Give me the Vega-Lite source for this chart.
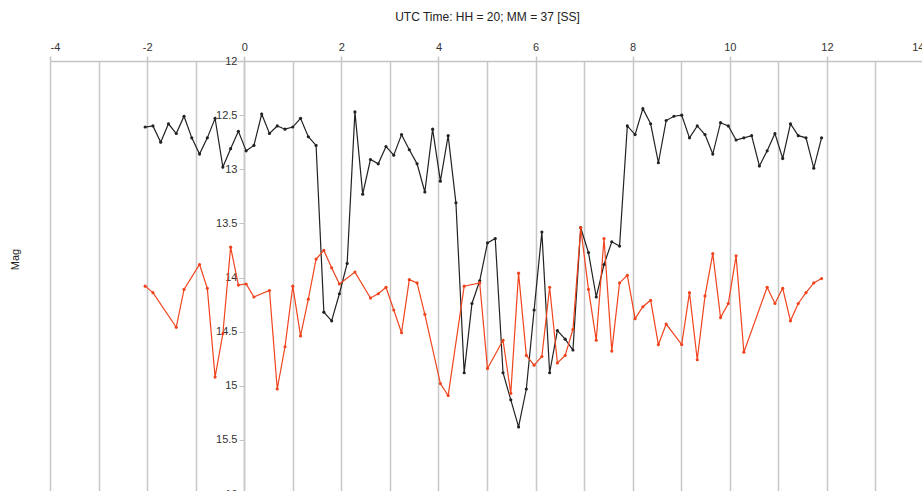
{
  "$schema": "https://vega.github.io/schema/vega-lite/v6.json",
  "width": 874,
  "height": 433,
  "autosize": "none",
  "padding": {"left": 50, "top": 61, "right": 0, "bottom": 0},
  "background": "white",
  "config": {"view": {"stroke": null}, "font": "Liberation Sans"},
  "data": {"values": [
    {"t":-2.04,"m":12.61,"s":"A"},{"t":-1.88,"m":12.60,"s":"A"},{"t":-1.72,"m":12.75,"s":"A"},{"t":-1.56,"m":12.58,"s":"A"},
    {"t":-1.40,"m":12.67,"s":"A"},{"t":-1.24,"m":12.51,"s":"A"},{"t":-1.08,"m":12.71,"s":"A"},{"t":-0.92,"m":12.86,"s":"A"},
    {"t":-0.76,"m":12.71,"s":"A"},{"t":-0.60,"m":12.53,"s":"A"},{"t":-0.44,"m":12.98,"s":"A"},{"t":-0.28,"m":12.81,"s":"A"},
    {"t":-0.12,"m":12.65,"s":"A"},{"t":0.04,"m":12.83,"s":"A"},{"t":0.20,"m":12.78,"s":"A"},{"t":0.36,"m":12.49,"s":"A"},
    {"t":0.52,"m":12.67,"s":"A"},{"t":0.68,"m":12.60,"s":"A"},{"t":0.84,"m":12.63,"s":"A"},{"t":1.00,"m":12.61,"s":"A"},
    {"t":1.16,"m":12.53,"s":"A"},{"t":1.32,"m":12.70,"s":"A"},{"t":1.48,"m":12.78,"s":"A"},{"t":1.64,"m":14.32,"s":"A"},
    {"t":1.80,"m":14.40,"s":"A"},{"t":1.96,"m":14.15,"s":"A"},{"t":2.12,"m":13.87,"s":"A"},{"t":2.28,"m":12.47,"s":"A"},
    {"t":2.44,"m":13.23,"s":"A"},{"t":2.60,"m":12.91,"s":"A"},{"t":2.76,"m":12.95,"s":"A"},{"t":2.92,"m":12.79,"s":"A"},
    {"t":3.08,"m":12.87,"s":"A"},{"t":3.24,"m":12.68,"s":"A"},{"t":3.40,"m":12.82,"s":"A"},{"t":3.56,"m":12.95,"s":"A"},
    {"t":3.72,"m":13.21,"s":"A"},{"t":3.88,"m":12.63,"s":"A"},{"t":4.04,"m":13.11,"s":"A"},{"t":4.20,"m":12.69,"s":"A"},
    {"t":4.36,"m":13.31,"s":"A"},{"t":4.53,"m":14.88,"s":"A"},{"t":4.69,"m":14.24,"s":"A"},{"t":4.85,"m":14.03,"s":"A"},
    {"t":5.01,"m":13.68,"s":"A"},{"t":5.17,"m":13.64,"s":"A"},{"t":5.33,"m":14.88,"s":"A"},{"t":5.49,"m":15.13,"s":"A"},
    {"t":5.65,"m":15.38,"s":"A"},{"t":5.81,"m":15.03,"s":"A"},{"t":5.97,"m":14.30,"s":"A"},{"t":6.13,"m":13.58,"s":"A"},
    {"t":6.29,"m":14.88,"s":"A"},{"t":6.45,"m":14.49,"s":"A"},{"t":6.61,"m":14.57,"s":"A"},{"t":6.77,"m":14.67,"s":"A"},
    {"t":6.93,"m":13.54,"s":"A"},{"t":7.09,"m":13.77,"s":"A"},{"t":7.25,"m":14.18,"s":"A"},{"t":7.41,"m":13.88,"s":"A"},
    {"t":7.57,"m":13.67,"s":"A"},{"t":7.73,"m":13.71,"s":"A"},{"t":7.89,"m":12.60,"s":"A"},{"t":8.05,"m":12.68,"s":"A"},
    {"t":8.21,"m":12.44,"s":"A"},{"t":8.37,"m":12.58,"s":"A"},{"t":8.53,"m":12.94,"s":"A"},{"t":8.69,"m":12.55,"s":"A"},
    {"t":8.85,"m":12.51,"s":"A"},{"t":9.01,"m":12.50,"s":"A"},{"t":9.17,"m":12.71,"s":"A"},{"t":9.33,"m":12.60,"s":"A"},
    {"t":9.49,"m":12.68,"s":"A"},{"t":9.65,"m":12.86,"s":"A"},{"t":9.81,"m":12.57,"s":"A"},{"t":9.97,"m":12.60,"s":"A"},
    {"t":10.13,"m":12.73,"s":"A"},{"t":10.29,"m":12.71,"s":"A"},{"t":10.45,"m":12.69,"s":"A"},{"t":10.61,"m":12.97,"s":"A"},
    {"t":10.77,"m":12.83,"s":"A"},{"t":10.93,"m":12.67,"s":"A"},{"t":11.09,"m":12.90,"s":"A"},{"t":11.25,"m":12.58,"s":"A"},
    {"t":11.41,"m":12.69,"s":"A"},{"t":11.57,"m":12.71,"s":"A"},{"t":11.73,"m":12.99,"s":"A"},{"t":11.89,"m":12.71,"s":"A"},

    {"t":-2.04,"m":14.08,"s":"B"},{"t":-1.88,"m":14.14,"s":"B"},{"t":-1.40,"m":14.46,"s":"B"},{"t":-1.24,"m":14.11,"s":"B"},
    {"t":-0.92,"m":13.88,"s":"B"},{"t":-0.76,"m":14.10,"s":"B"},{"t":-0.60,"m":14.92,"s":"B"},{"t":-0.44,"m":14.52,"s":"B"},
    {"t":-0.28,"m":13.72,"s":"B"},{"t":-0.12,"m":14.07,"s":"B"},{"t":0.04,"m":14.06,"s":"B"},{"t":0.20,"m":14.18,"s":"B"},
    {"t":0.52,"m":14.12,"s":"B"},{"t":0.68,"m":15.03,"s":"B"},{"t":0.84,"m":14.64,"s":"B"},{"t":1.00,"m":14.08,"s":"B"},
    {"t":1.16,"m":14.54,"s":"B"},{"t":1.32,"m":14.20,"s":"B"},{"t":1.48,"m":13.83,"s":"B"},{"t":1.64,"m":13.75,"s":"B"},
    {"t":1.80,"m":13.91,"s":"B"},{"t":1.96,"m":14.06,"s":"B"},{"t":2.28,"m":13.95,"s":"B"},{"t":2.60,"m":14.19,"s":"B"},
    {"t":2.76,"m":14.15,"s":"B"},{"t":2.92,"m":14.09,"s":"B"},{"t":3.08,"m":14.30,"s":"B"},{"t":3.24,"m":14.51,"s":"B"},
    {"t":3.40,"m":14.02,"s":"B"},{"t":3.56,"m":14.05,"s":"B"},{"t":3.72,"m":14.34,"s":"B"},{"t":4.04,"m":14.98,"s":"B"},
    {"t":4.20,"m":15.09,"s":"B"},{"t":4.53,"m":14.08,"s":"B"},{"t":4.85,"m":14.05,"s":"B"},{"t":5.01,"m":14.84,"s":"B"},
    {"t":5.33,"m":14.58,"s":"B"},{"t":5.49,"m":15.07,"s":"B"},{"t":5.65,"m":13.96,"s":"B"},{"t":5.81,"m":14.72,"s":"B"},
    {"t":5.97,"m":14.81,"s":"B"},{"t":6.13,"m":14.73,"s":"B"},{"t":6.29,"m":14.09,"s":"B"},{"t":6.45,"m":14.79,"s":"B"},
    {"t":6.61,"m":14.72,"s":"B"},{"t":6.77,"m":14.48,"s":"B"},{"t":6.93,"m":13.54,"s":"B"},{"t":7.09,"m":14.11,"s":"B"},
    {"t":7.25,"m":14.58,"s":"B"},{"t":7.41,"m":13.64,"s":"B"},{"t":7.57,"m":14.68,"s":"B"},{"t":7.73,"m":14.05,"s":"B"},
    {"t":7.89,"m":13.98,"s":"B"},{"t":8.05,"m":14.38,"s":"B"},{"t":8.21,"m":14.27,"s":"B"},{"t":8.37,"m":14.21,"s":"B"},
    {"t":8.53,"m":14.62,"s":"B"},{"t":8.69,"m":14.43,"s":"B"},{"t":9.01,"m":14.62,"s":"B"},{"t":9.17,"m":14.14,"s":"B"},
    {"t":9.33,"m":14.76,"s":"B"},{"t":9.49,"m":14.17,"s":"B"},{"t":9.65,"m":13.78,"s":"B"},{"t":9.81,"m":14.37,"s":"B"},
    {"t":9.97,"m":14.24,"s":"B"},{"t":10.13,"m":13.80,"s":"B"},{"t":10.29,"m":14.69,"s":"B"},{"t":10.77,"m":14.09,"s":"B"},
    {"t":10.93,"m":14.24,"s":"B"},{"t":11.09,"m":14.10,"s":"B"},{"t":11.25,"m":14.40,"s":"B"},{"t":11.41,"m":14.24,"s":"B"},
    {"t":11.57,"m":14.14,"s":"B"},{"t":11.73,"m":14.05,"s":"B"},{"t":11.89,"m":14.01,"s":"B"}
  ]},
  "mark": {"type": "line", "strokeWidth": 1.2, "point": {"filled": true, "size": 10}},
  "encoding": {
    "x": {
      "field": "t", "type": "quantitative",
      "scale": {"domain": [-4, 14], "nice": false, "zero": false},
      "axis": {
        "orient": "top",
        "title": "UTC Time: HH = 20; MM = 37 [SS]",
        "titleFontSize": 12, "titleFontWeight": "normal", "titleColor": "#222",
        "titleBaseline": "middle", "titleY": -45,
        "values": [-4,-3,-2,-1,0,1,2,3,4,5,6,7,8,9,10,11,12,13,14],
        "labelExpr": "datum.value % 2 === 0 ? '' + datum.value : ''",
        "labelFontSize": 11, "labelColor": "#333", "labelPadding": 4,
        "tickSize": 5, "tickColor": "#c4c4c4", "tickWidth": 1.5,
        "tickOpacity": {"condition": {"test": "datum.value % 2 !== 0", "value": 0}, "value": 1},
        "grid": true, "gridColor": "#c8c8c8", "gridWidth": 1.5,
        "domainColor": "#c4c4c4", "domainWidth": 1.5
      }
    },
    "y": {
      "field": "m", "type": "quantitative",
      "scale": {"domain": [12, 16], "reverse": true, "nice": false, "zero": false},
      "axis": {
        "orient": "left", "offset": -194,
        "values": [12, 12.5, 13, 13.5, 14, 14.5, 15, 15.5, 16],
        "format": "~g",
        "labelFontSize": 11, "labelColor": "#333", "labelPadding": 2,
        "tickSize": 5, "tickColor": "#c4c4c4",
        "grid": false,
        "domainColor": "#c8c8c8", "domainWidth": 1.5,
        "title": "Mag", "titleFontSize": 11, "titleFontWeight": "normal", "titleColor": "#222",
        "titleX": -229, "titleY": 198, "titleAlign": "center", "titleBaseline": "middle", "titleAngle": -90
      }
    },
    "color": {
      "field": "s", "type": "nominal",
      "scale": {"domain": ["A", "B"], "range": ["#222222", "#f0441e"]},
      "legend": null
    },
    "order": {"field": "t", "type": "quantitative"}
  }
}
